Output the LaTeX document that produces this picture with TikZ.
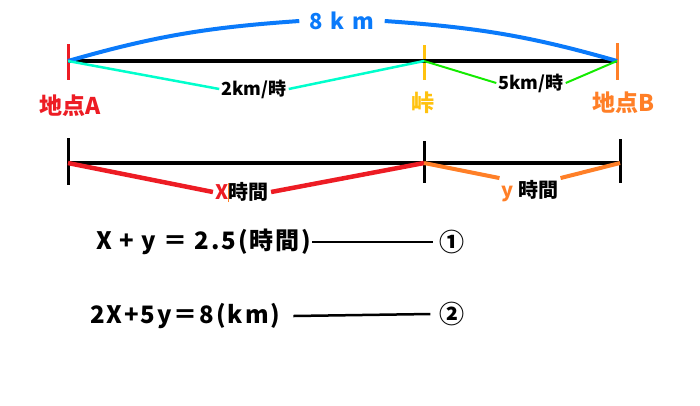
\documentclass[tikz,border=0pt]{standalone}
\usepackage{fontspec}
\setmainfont{Noto Sans CJK JP}
\newfontfamily\eqfont[LetterSpace=8]{Noto Sans CJK JP}
\usepackage{tikz}
\usetikzlibrary{positioning}

\definecolor{pred}{RGB}{237,28,36}
\definecolor{porange}{RGB}{255,127,39}
\definecolor{pgold}{RGB}{255,194,14}
\definecolor{pblue}{RGB}{10,122,250}
\definecolor{pcyan}{RGB}{0,255,204}
\definecolor{pgreen}{RGB}{20,235,0}

\begin{document}
\begin{tikzpicture}[x=1pt,y=-1pt,
	tick/.style={line width=3pt},
	road/.style={line width=4pt},
	place/.style={inner sep=1pt,font=\fontsize{23}{23}\selectfont\bfseries},
	speed/.style={inner sep=2pt,font=\fontsize{18}{18}\selectfont\bfseries},
	hours/.style={inner sep=2pt,font=\fontsize{20}{20}\selectfont\bfseries},
	eqn/.style={inner sep=1pt,font=\fontsize{24}{24}\eqfont\bfseries},
	circ/.style={inner sep=6pt,font=\fontsize{25}{25}\selectfont\bfseries},
	link/.style={line width=2.5pt}]
	\useasboundingbox (0,0) rectangle (700,405);

	% top line: distances
	\coordinate (A) at (68,61);
	\coordinate (P) at (424,61);
	\coordinate (B) at (617,61);
	\draw[tick,pred] (68,44) -- (68,80);
	\draw[tick,pgold] (424,45) -- (424,80);
	\draw[tick,porange] (617,43) -- (617,80);
	\draw[road] (A) -- (B);

	\node[inner sep=10pt,text=pblue,font=\fontsize{22}{22}\selectfont\bfseries] (dist) at (342,21) {8\hspace{8pt}k\hspace{8pt}m};
	\draw[line width=4pt,pblue] (A) to[out=16,in=184] (dist.west);
	\draw[line width=4pt,pblue] (dist.east) to[out=-4,in=164] (B);

	\node[speed] (slow) at (254,89) {2km/時};
	\draw[line width=2.5pt,pcyan] (A) -- (slow.west);
	\draw[line width=2.5pt,pcyan] (slow.east) -- (P);
	\node[speed] (fast) at (531,83) {5km/時};
	\draw[line width=2pt,pgreen] (P) -- (fast.west);
	\draw[line width=2pt,pgreen] (fast.east) -- (B);

	\node[place,text=pred] (la) at (70,106) {地点A};
	\node[place,text=pgold] (lp) at (423,103) {峠};
	\node[place,text=porange] (lb) at (623,103) {地点B};

	% bottom line: times
	\coordinate (A2) at (68,163);
	\coordinate (P2) at (424,163);
	\coordinate (B2) at (620,163);
	\draw[tick] (68,138) -- (68,185);
	\draw[tick] (424,141) -- (424,183);
	\draw[tick] (620,139) -- (620,183);
	\draw[road] (A2) -- (B2);

	\node[hours] (tx) at (242,192) {\textcolor{pred}{X}\textcolor{porange}{\rule[-0.15em]{0.6pt}{0.95em}}時間};
	\draw[line width=4.5pt,pred] (A2) -- (tx.west);
	\draw[line width=4.5pt,pred] (tx.east) -- (P2);
	\node[hours] (ty) at (530,191) {\textcolor{porange}{y} 時間};
	\draw[line width=4pt,porange] (P2) -- (ty.north west);
	\draw[line width=4pt,porange] (ty.north east) -- (B2);

	% equations
	\node[eqn,anchor=west] (eq1) at (95,242) {X + y ＝ 2.5(時間)};
	\node[circ] (c1) at (452,242) {①};
	\draw[link] (eq1.east) -- (c1.west);
	\node[eqn,anchor=west] (eq2) at (89,316) {2X+5y＝8(km)};
	\node[circ,inner sep=9pt] (c2) at (452,314) {②};
	\draw[link] ([xshift=12pt]eq2.east) -- (c2.west);
\end{tikzpicture}
\end{document}
